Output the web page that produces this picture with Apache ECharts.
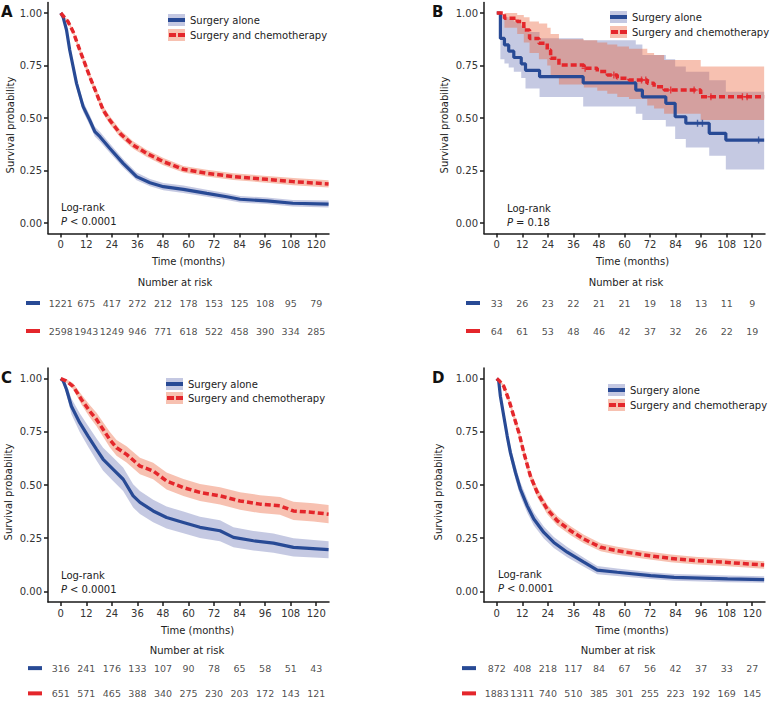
<!DOCTYPE html>
<html>
<head>
<meta charset="utf-8">
<script src="https://cdn.jsdelivr.net/npm/echarts@6/dist/echarts.min.js"></script>
<style>
html,body{margin:0;padding:0;background:#fff;}
#chart{width:771px;height:706px;}
</style>
</head>
<body>
<div id="chart"></div>
<script>
// ---------- data ----------
const groupNames = ['Surgery alone', 'Surgery and chemotherapy'];
const riskTimes = [0, 12, 24, 36, 48, 60, 72, 84, 96, 108, 120];
const yTicks = [0, 0.25, 0.5, 0.75, 1];

// Panel A
const aBlueT  = [0, 1.1, 2.7, 4.2, 7.4, 10.5, 13.6, 16, 18.4, 23, 29.3, 35.6, 41.9, 48.2, 57.6, 68.6, 78, 84.2, 96.8, 109, 125.8];
const aBlueS  = [1, 0.98, 0.919, 0.824, 0.665, 0.554, 0.49, 0.435, 0.411, 0.356, 0.284, 0.221, 0.192, 0.173, 0.16, 0.141, 0.125, 0.113, 0.105, 0.094, 0.09];
const aBlueLo = [1, 0.972, 0.903, 0.804, 0.642, 0.53, 0.466, 0.412, 0.388, 0.334, 0.264, 0.203, 0.175, 0.156, 0.143, 0.125, 0.109, 0.098, 0.09, 0.079, 0.074];
const aBlueUp = [1, 0.99, 0.934, 0.844, 0.688, 0.578, 0.514, 0.458, 0.434, 0.378, 0.305, 0.240, 0.210, 0.191, 0.178, 0.158, 0.142, 0.129, 0.121, 0.110, 0.107];
const aRedT   = [0, 3.4, 5.8, 8.9, 11.3, 13.6, 16.8, 19.9, 23, 27.8, 34, 40.3, 48.2, 57.6, 68.6, 81.1, 96.8, 109.4, 125.8];
const aRedS   = [1, 0.959, 0.911, 0.824, 0.76, 0.697, 0.617, 0.538, 0.49, 0.427, 0.371, 0.332, 0.292, 0.256, 0.237, 0.221, 0.208, 0.197, 0.186];
const aRedLo  = [1, 0.951, 0.9, 0.81, 0.744, 0.68, 0.599, 0.519, 0.471, 0.409, 0.353, 0.315, 0.275, 0.24, 0.221, 0.205, 0.192, 0.18, 0.169];
const aRedUp  = [1, 0.967, 0.922, 0.838, 0.776, 0.714, 0.635, 0.557, 0.509, 0.445, 0.389, 0.349, 0.309, 0.272, 0.253, 0.237, 0.224, 0.214, 0.203];
const aRiskBlue = [1221, 675, 417, 272, 212, 178, 153, 125, 108, 95, 79];
const aRiskRed  = [2598, 1943, 1249, 946, 771, 618, 522, 458, 390, 334, 285];

// Panel B
const bBlueT  = [0, 1.7, 3.6, 5.6, 8.0, 11.5, 13.5, 20.1, 40.6, 65.3, 68.4, 79.4, 83.8, 88.8, 99.8, 107.6, 125.6];
const bBlueS  = [1, 0.879, 0.848, 0.818, 0.788, 0.758, 0.727, 0.697, 0.667, 0.633, 0.601, 0.570, 0.506, 0.475, 0.427, 0.395, 0.395];
const bBlueLo = [1, 0.78, 0.76, 0.74, 0.72, 0.69, 0.64, 0.60, 0.555, 0.52, 0.49, 0.46, 0.40, 0.36, 0.32, 0.255, 0.255];
const bBlueUp = [1, 0.99, 0.98, 0.97, 0.96, 0.94, 0.91, 0.88, 0.87, 0.85, 0.80, 0.78, 0.745, 0.72, 0.68, 0.625, 0.625];
const bRedT   = [0, 3.6, 9.6, 12.7, 15.4, 19.8, 23.7, 25.3, 29.2, 40.9, 47.2, 51.9, 56.6, 62.1, 70.7, 73.9, 78.6, 95.8, 125.6];
const bRedS   = [1, 0.975, 0.959, 0.919, 0.879, 0.856, 0.824, 0.784, 0.752, 0.737, 0.721, 0.705, 0.689, 0.681, 0.665, 0.649, 0.633, 0.601, 0.601];
const bRedLo  = [1, 0.93, 0.90, 0.86, 0.81, 0.78, 0.75, 0.70, 0.66, 0.645, 0.63, 0.615, 0.60, 0.59, 0.56, 0.545, 0.52, 0.49, 0.49];
const bRedUp  = [1, 1.0, 0.99, 0.98, 0.96, 0.95, 0.93, 0.90, 0.875, 0.87, 0.86, 0.85, 0.84, 0.83, 0.81, 0.80, 0.776, 0.745, 0.745];
const bBlueCensorT = [94.3, 96.6, 123];
const bBlueCensorS = [0.475, 0.475, 0.395];
const bRedCensorT  = [41.5, 55, 68, 70, 81.7, 92.7, 100.6, 115.4, 117.6];
const bRedCensorS  = [0.737, 0.705, 0.681, 0.681, 0.633, 0.633, 0.601, 0.601, 0.601];
const bRiskBlue = [33, 26, 23, 22, 21, 21, 19, 18, 13, 11, 9];
const bRiskRed  = [64, 61, 53, 48, 46, 42, 37, 32, 26, 22, 19];

// Panel C
const cBlueT  = [0, 1.1, 2.7, 5, 8.9, 12.8, 16.8, 19.9, 24.6, 29.3, 34, 37.2, 43.4, 49.7, 57.6, 65.4, 74.8, 81.1, 90.5, 99.9, 109.3, 125.8];
const cBlueS  = [1, 0.99, 0.949, 0.87, 0.793, 0.73, 0.667, 0.621, 0.574, 0.527, 0.449, 0.418, 0.378, 0.347, 0.324, 0.301, 0.285, 0.254, 0.238, 0.227, 0.207, 0.196];
const cBlueLo = [1, 0.98, 0.925, 0.833, 0.749, 0.681, 0.615, 0.567, 0.519, 0.472, 0.394, 0.364, 0.325, 0.295, 0.273, 0.251, 0.236, 0.207, 0.192, 0.182, 0.164, 0.156];
const cBlueUp = [1, 1.0, 0.973, 0.907, 0.837, 0.779, 0.719, 0.675, 0.629, 0.582, 0.504, 0.472, 0.431, 0.399, 0.375, 0.351, 0.334, 0.301, 0.284, 0.272, 0.25, 0.236];
const cRedT   = [0, 2.5, 5.8, 9.7, 13.6, 16.8, 19.9, 23, 26.2, 30.9, 37.2, 43.4, 49.7, 57.6, 65.4, 74.8, 84.2, 93.6, 103, 109.3, 118.7, 125.8];
const cRedS   = [1, 0.99, 0.964, 0.902, 0.847, 0.808, 0.761, 0.714, 0.675, 0.644, 0.589, 0.566, 0.519, 0.488, 0.465, 0.449, 0.425, 0.41, 0.402, 0.378, 0.371, 0.363];
const cRedLo  = [1, 0.982, 0.95, 0.879, 0.818, 0.776, 0.727, 0.678, 0.638, 0.606, 0.55, 0.527, 0.479, 0.448, 0.425, 0.408, 0.384, 0.368, 0.36, 0.335, 0.328, 0.32];
const cRedUp  = [1, 0.998, 0.978, 0.925, 0.876, 0.84, 0.795, 0.75, 0.712, 0.682, 0.628, 0.605, 0.559, 0.528, 0.505, 0.49, 0.466, 0.452, 0.444, 0.421, 0.414, 0.406];
const cRiskBlue = [316, 241, 176, 133, 107, 90, 78, 65, 58, 51, 43];
const cRiskRed  = [651, 571, 465, 388, 340, 275, 230, 203, 172, 143, 121];

// Panel D
const dBlueT  = [0, 0.9, 1.7, 3.3, 4.9, 6.4, 8.8, 11.1, 14.3, 17.4, 22.1, 26.8, 33.1, 40.9, 47.2, 56.6, 72.3, 83.3, 108.4, 125.6];
const dBlueS  = [1, 0.99, 0.917, 0.823, 0.73, 0.652, 0.558, 0.48, 0.402, 0.34, 0.277, 0.23, 0.184, 0.137, 0.1, 0.09, 0.074, 0.066, 0.059, 0.055];
const dBlueLo = [1, 0.983, 0.898, 0.797, 0.7, 0.62, 0.525, 0.447, 0.37, 0.31, 0.249, 0.204, 0.16, 0.116, 0.08, 0.072, 0.058, 0.05, 0.043, 0.04];
const dBlueUp = [1, 0.997, 0.935, 0.848, 0.759, 0.683, 0.591, 0.513, 0.434, 0.371, 0.305, 0.256, 0.208, 0.158, 0.119, 0.108, 0.09, 0.082, 0.075, 0.071];
const dRedT   = [0, 1.2, 3.3, 5.6, 8, 10.4, 12.7, 15.8, 19, 23.7, 28.4, 34.7, 40.9, 48.8, 56.6, 69.2, 81.7, 94.3, 106.8, 125.6];
const dRedS   = [1, 0.99, 0.964, 0.902, 0.823, 0.746, 0.652, 0.542, 0.465, 0.386, 0.332, 0.285, 0.246, 0.207, 0.191, 0.171, 0.155, 0.144, 0.137, 0.124];
const dRedLo  = [1, 0.985, 0.955, 0.888, 0.805, 0.726, 0.63, 0.519, 0.442, 0.363, 0.31, 0.264, 0.226, 0.188, 0.172, 0.153, 0.137, 0.126, 0.119, 0.106];
const dRedUp  = [1, 0.995, 0.972, 0.915, 0.841, 0.766, 0.674, 0.564, 0.488, 0.408, 0.354, 0.306, 0.266, 0.226, 0.21, 0.19, 0.173, 0.162, 0.155, 0.142];
const dRiskBlue = [872, 408, 218, 117, 84, 67, 56, 42, 37, 33, 27];
const dRiskRed  = [1883, 1311, 740, 510, 385, 301, 255, 223, 192, 169, 145];

const pValues = ['< 0.0001', '= 0.18', '< 0.0001', '< 0.0001'];

// ---------- styling / layout ----------
const BLUE = '#284a95';
const RED = '#e4262b';
const BLUE_BAND = 'rgba(45,60,150,0.28)';
const RED_BAND = 'rgba(235,100,60,0.40)';
const FONT = '"DejaVu Sans", Verdana, sans-serif';
const TXT = '#222';
const PLUS = 'path://M4,0h2v4h4v2h-4v4h-2v-4h-4v-2h4z';

const panels = [
  { key: 'A', step: false, blue: [aBlueT, aBlueS, aBlueLo, aBlueUp], red: [aRedT, aRedS, aRedLo, aRedUp], risk: [aRiskBlue, aRiskRed], p: pValues[0],
    grid: { left: 48, top: 2.5, width: 281, height: 231 }, riskGrid: { top: 289, height: 56 }, dashMargin: 8,
    legend: { left: 163, top: 9, gap: 3 }, letter: [1, 12], logrank: [61, 207], riskTitle: [175, 282], yNameGap: 33, xShift: 0 },
  { key: 'B', step: true, blue: [bBlueT, bBlueS, bBlueLo, bBlueUp], red: [bRedT, bRedS, bRedLo, bRedUp], risk: [bRiskBlue, bRiskRed], p: pValues[1],
    censor: [[bBlueCensorT, bBlueCensorS], [bRedCensorT, bRedCensorS]],
    grid: { left: 484, top: 2.5, width: 281, height: 231 }, riskGrid: { top: 289, height: 56 }, dashMargin: 4,
    legend: { left: 605, top: 6, gap: 3 }, letter: [432, 12], logrank: [507, 208], riskTitle: [626, 282], yNameGap: 35, xShift: 16 },
  { key: 'C', step: false, blue: [cBlueT, cBlueS, cBlueLo, cBlueUp], red: [cRedT, cRedS, cRedLo, cRedUp], risk: [cRiskBlue, cRiskRed], p: pValues[2],
    grid: { left: 48, top: 368, width: 281, height: 234 }, riskGrid: { top: 655.5, height: 54 }, dashMargin: 6,
    legend: { left: 161, top: 373, gap: 2 }, letter: [1, 377.5], logrank: [61, 575], riskTitle: [187, 650], yNameGap: 35, xShift: 18 },
  { key: 'D', step: false, blue: [dBlueT, dBlueS, dBlueLo, dBlueUp], red: [dRedT, dRedS, dRedLo, dRedUp], risk: [dRiskBlue, dRiskRed], p: pValues[3],
    grid: { left: 484, top: 368, width: 281, height: 234 }, riskGrid: { top: 655.5, height: 54 }, dashMargin: 8,
    legend: { left: 603, top: 379, gap: 3 }, letter: [432, 377.5], logrank: [498, 574], riskTitle: [618, 650], yNameGap: 41, xShift: 15 }
];

function svgIcon(fill, line, dashed) {
  const bar = dashed
    ? '<rect x="1" y="4" width="7" height="4" fill="' + line + '"/><rect x="10" y="4" width="7" height="4" fill="' + line + '"/>'
    : '<rect x="0" y="4" width="17" height="4" fill="' + line + '"/>';
  const svg = '<svg xmlns="http://www.w3.org/2000/svg" width="17" height="12"><rect width="17" height="12" fill="' + fill + '"/>' + bar + '</svg>';
  return 'image://data:image/svg+xml;charset=utf-8,' + encodeURIComponent(svg);
}
const blueIcon = svgIcon('#c4c8e2', BLUE, false);
const redIcon = svgIcon('#f7c1b1', RED, true);

const zip = (t, v) => t.map((x, i) => [x, v[i]]);

// confidence band drawn as one polygon through the axis scales
function bandSeries(gi, t, lo, up, step, color) {
  return {
    type: 'custom', coordinateSystem: 'cartesian2d', xAxisIndex: gi, yAxisIndex: gi, silent: true, z: 1,
    data: t.map((x, i) => [x, lo[i], up[i]]),
    encode: { x: 0, y: [1, 2] },
    renderItem: (params, api) => {
      if (params.dataIndex !== 0) return null;
      const upper = [], lower = [];
      for (let i = 0; i < t.length; i++) {
        upper.push(api.coord([t[i], up[i]]));
        if (step && i < t.length - 1) upper.push(api.coord([t[i + 1], up[i]]));
      }
      for (let i = t.length - 1; i >= 0; i--) {
        if (step && i < t.length - 1) lower.push(api.coord([t[i + 1], lo[i]]));
        lower.push(api.coord([t[i], lo[i]]));
      }
      return { type: 'polygon', shape: { points: upper.concat(lower) }, style: { fill: color } };
    }
  };
}

const grids = [], xAxes = [], yAxes = [], series = [], legends = [], graphics = [];
const axisLineStyle = { color: '#1a1a1a', width: 1.5 };

panels.forEach((p, pi) => {
  const gi = pi * 2;       // plot grid index
  const ri = pi * 2 + 1;   // risk table grid index
  grids.push(Object.assign({ containLabel: false }, p.grid));
  grids.push({ left: p.grid.left, width: p.grid.width, top: p.riskGrid.top, height: p.riskGrid.height, containLabel: false });

  xAxes.push({
    gridIndex: gi, type: 'value', min: -6, max: 126,
    name: 'Time (months)', nameLocation: 'middle', nameGap: 23,
    nameTextStyle: { fontFamily: FONT, fontSize: 10, color: TXT, padding: [0, 0, 0, p.xShift] },
    axisLine: { show: true, onZero: false, lineStyle: axisLineStyle },
    axisTick: { show: true, length: 4, lineStyle: axisLineStyle, customValues: riskTimes },
    axisLabel: { fontFamily: FONT, fontSize: 10, color: '#333', margin: 6, customValues: riskTimes },
    splitLine: { show: false }
  });
  xAxes.push({ gridIndex: ri, type: 'value', min: -6, max: 126, show: false });

  yAxes.push({
    gridIndex: gi, type: 'value', min: -0.05, max: 1.05,
    name: 'Survival probability', nameLocation: 'middle', nameGap: p.yNameGap,
    nameTextStyle: { fontFamily: FONT, fontSize: 10, color: TXT, padding: [0, 14, 0, 0] },
    axisLine: { show: true, onZero: false, lineStyle: axisLineStyle },
    axisTick: { show: true, length: 4, lineStyle: axisLineStyle, customValues: yTicks },
    axisLabel: { fontFamily: FONT, fontSize: 10, color: '#333', margin: 6, customValues: yTicks,
                 formatter: v => Number(v).toFixed(2) },
    splitLine: { show: false }
  });
  yAxes.push({
    gridIndex: ri, type: 'category', data: ['blue', 'red'], inverse: true,
    axisLine: { show: false }, axisTick: { show: false }, splitLine: { show: false },
    axisLabel: {
      margin: p.dashMargin,
      formatter: v => (v === 'blue' ? '{b|}' : '{r|}'),
      rich: { b: { backgroundColor: BLUE, width: 14, height: 4 }, r: { backgroundColor: RED, width: 14, height: 4 } }
    }
  });

  const step = p.step ? 'end' : false;
  series.push(bandSeries(gi, p.blue[0], p.blue[2], p.blue[3], p.step, BLUE_BAND));
  series.push(bandSeries(gi, p.red[0], p.red[2], p.red[3], p.step, RED_BAND));
  series.push({
    type: 'line', name: groupNames[0], xAxisIndex: gi, yAxisIndex: gi, step: step, symbol: 'none',
    lineStyle: { color: BLUE, width: 3.2 }, itemStyle: { color: BLUE }, data: zip(p.blue[0], p.blue[1]), z: 3
  });
  series.push({
    type: 'line', name: groupNames[1], xAxisIndex: gi, yAxisIndex: gi, step: step, symbol: 'none',
    lineStyle: { color: RED, width: 3.5, type: [6, 3] }, itemStyle: { color: RED }, data: zip(p.red[0], p.red[1]), z: 4
  });
  if (p.censor) {
    [BLUE, RED].forEach((col, k) => {
      series.push({
        type: 'scatter', xAxisIndex: gi, yAxisIndex: gi, symbol: PLUS, symbolSize: 7, silent: true, z: 5,
        itemStyle: { color: col }, data: zip(p.censor[k][0], p.censor[k][1])
      });
    });
  }
  // number-at-risk rows
  [0, 1].forEach(row => {
    series.push({
      type: 'scatter', xAxisIndex: ri, yAxisIndex: ri, symbolSize: 1, silent: true,
      itemStyle: { color: 'rgba(0,0,0,0)' },
      label: { show: true, position: 'inside', fontFamily: FONT, fontSize: 9.5, color: TXT, formatter: o => String(o.value[2]) },
      data: riskTimes.map((t, i) => [t, row, p.risk[row][i]])
    });
  });

  legends.push({
    left: p.legend.left, top: p.legend.top, orient: 'vertical', itemWidth: 17, itemHeight: 12, itemGap: p.legend.gap,
    selectedMode: false, textStyle: { fontFamily: FONT, fontSize: 10, color: TXT },
    data: [{ name: groupNames[0], icon: blueIcon }, { name: groupNames[1], icon: redIcon }]
  });

  graphics.push({ type: 'text', x: p.letter[0], y: p.letter[1],
    style: { text: p.key, font: 'bold 15px ' + FONT, fill: '#111', textAlign: 'left', textVerticalAlign: 'middle' } });
  graphics.push({ type: 'text', x: p.logrank[0], y: p.logrank[1],
    style: { text: 'Log-rank', font: '10px ' + FONT, fill: TXT, textAlign: 'left', textVerticalAlign: 'middle' } });
  graphics.push({ type: 'text', x: p.logrank[0], y: p.logrank[1] + 14,
    style: { text: 'P', font: 'italic 10px ' + FONT, fill: TXT, textAlign: 'left', textVerticalAlign: 'middle' } });
  graphics.push({ type: 'text', x: p.logrank[0] + 9, y: p.logrank[1] + 14,
    style: { text: p.p, font: '10px ' + FONT, fill: TXT, textAlign: 'left', textVerticalAlign: 'middle' } });
  graphics.push({ type: 'text', x: p.riskTitle[0], y: p.riskTitle[1],
    style: { text: 'Number at risk', font: '10px ' + FONT, fill: TXT, textAlign: 'center', textVerticalAlign: 'middle' } });
});

const chart = echarts.init(document.getElementById('chart'), null, { renderer: 'svg', width: 771, height: 706 });
chart.setOption({
  backgroundColor: '#ffffff',
  animation: false,
  textStyle: { fontFamily: FONT },
  grid: grids, xAxis: xAxes, yAxis: yAxes, series: series, legend: legends, graphic: graphics
});
</script>
</body>
</html>
